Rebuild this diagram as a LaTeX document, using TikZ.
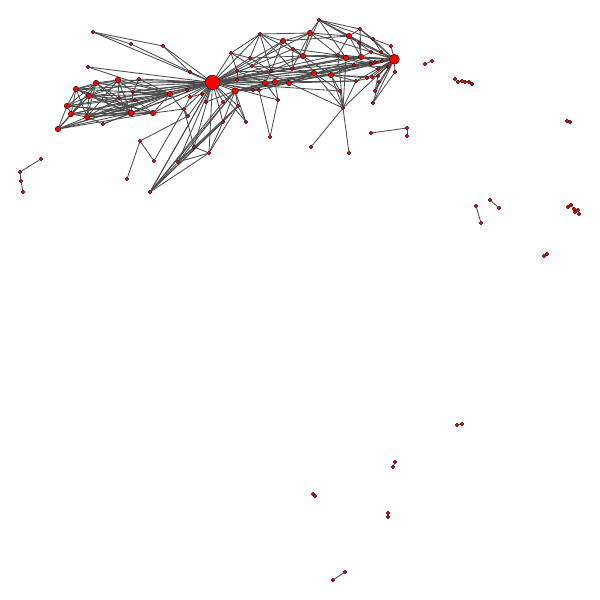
\documentclass[tikz,border=0pt]{standalone}
\usepackage{tikz}
\usepackage{xcolor}
\usetikzlibrary{backgrounds}

\begin{document}
\begin{tikzpicture}[x=1pt, y=-1pt,
    vtx/.style={circle, draw=black, fill=red, line width=0.4pt, inner sep=0pt, minimum size=3.6pt},
    vtxm/.style={vtx, minimum size=5.5pt},
    hub/.style={vtx, line width=0.5pt, minimum size=14.5pt},
    link/.style={draw=black!70, line width=0.85pt}]
  \useasboundingbox (0,0) rectangle (600,600);
  % hubs
  \node[hub] (hubL) at (212.5,82.5) {};
  \node[hub, minimum size=10pt] (hubR) at (394.3,59.3) {};
  % left cluster
  \node[vtxm] (c1) at (96,83) {};
  \node[vtxm] (c2) at (118,80) {};
  \node[vtx]  (c3) at (139,79) {};
  \node[vtxm] (c4) at (76,89) {};
  \node[vtxm] (c5) at (89,96) {};
  \node[vtx]  (c6) at (133,92) {};
  \node[vtx]  (c7) at (119,98) {};
  \node[vtx]  (c8) at (135,100) {};
  \node[vtxm] (c9) at (170,94) {};
  \node[vtxm] (c10) at (67,106) {};
  \node[vtxm] (c11) at (71,114) {};
  \node[vtxm] (c12) at (87,117) {};
  \node[vtxm, minimum size=6pt] (c13) at (131,113) {};
  \node[vtxm] (c14) at (153,113) {};
  \node[vtx]  (c15) at (103,124) {};
  \node[vtxm] (c16) at (58,129) {};
  \node[vtx]  (c17) at (88,67) {};
  \node[vtx]  (t1) at (93,32) {};
  \node[vtx]  (t2) at (131,44) {};
  \node[vtx]  (t3) at (163,46) {};
  % below the left hub
  \node[vtx]  (e1) at (190,97) {};
  \node[vtx]  (e2) at (206,102) {};
  \node[vtx]  (e3) at (184,109) {};
  \node[vtx]  (e4) at (188,116) {};
  \node[vtx]  (e5) at (223,102) {};
  \node[vtx]  (e6) at (238,106) {};
  \node[vtx]  (e7) at (223,122) {};
  \node[vtx]  (e8) at (246,122) {};
  \node[vtx]  (e9) at (278,100) {};
  \node[vtx]  (e10) at (270,137) {};
  \node[vtx]  (e11) at (187,90) {};
  \node[vtx]  (e12) at (202,94) {};
  \node[vtx]  (e13) at (190,72) {};
  \node[vtx]  (d1) at (140,141) {};
  \node[vtx]  (d2) at (154,161) {};
  \node[vtx]  (d3) at (194,147) {};
  \node[vtx]  (d4) at (209,153) {};
  \node[vtx]  (d5) at (178,162) {};
  \node[vtx]  (d6) at (127,179) {};
  \node[vtx]  (d7) at (150,192) {};
  % middle and right cluster
  \node[vtx]  (m1) at (231,53) {};
  \node[vtx]  (m2) at (260,34) {};
  \node[vtxm] (m3) at (283,41) {};
  \node[vtx]  (m4) at (293,49) {};
  \node[vtxm] (m5) at (310,33) {};
  \node[vtx]  (m6) at (319,20) {};
  \node[vtx]  (m7) at (250,58) {};
  \node[vtx]  (m8) at (252,66) {};
  \node[vtx]  (m9) at (237,71) {};
  \node[vtx]  (m10) at (271,71) {};
  \node[vtx]  (m11) at (292,69) {};
  \node[vtxm] (m12) at (303,56) {};
  \node[vtxm] (m13) at (349,36) {};
  \node[vtx]  (m14) at (360,29) {};
  \node[vtx]  (m15) at (359,43) {};
  \node[vtx]  (m16) at (373,39) {};
  \node[vtx]  (m17) at (338,55) {};
  \node[vtxm] (m18) at (346,58) {};
  \node[vtxm] (m19) at (361,57) {};
  \node[vtx]  (m20) at (371,52) {};
  \node[vtx]  (m21) at (381,52) {};
  \node[vtx]  (m22) at (391,46) {};
  \node[vtx]  (m23) at (237,80) {};
  \node[vtxm] (m24) at (265,83) {};
  \node[vtxm] (m25) at (275,82) {};
  \node[vtxm] (m26) at (289,83) {};
  \node[vtxm] (m27) at (314,73) {};
  \node[vtxm] (m28) at (331,75) {};
  \node[vtxm, minimum size=6.5pt] (m29) at (235,91) {};
  \node[vtx]  (m30) at (253,90) {};
  \node[vtx]  (m31) at (259,90) {};
  \node[vtx]  (m32) at (354,65) {};
  \node[vtx]  (m33) at (356,81) {};
  \node[vtx]  (m34) at (367,78) {};
  \node[vtx]  (m35) at (372,77) {};
  \node[vtx]  (m36) at (378,76) {};
  \node[vtx]  (m37) at (371,64) {};
  \node[vtx]  (m38) at (375,62) {};
  \node[vtx]  (m39) at (382,61) {};
  \node[vtx]  (m40) at (378,69) {};
  \node[vtx]  (m41) at (388,67) {};
  \node[vtx]  (m42) at (379,82) {};
  \node[vtx]  (m43) at (395,72) {};
  \node[vtx]  (m44) at (340,91) {};
  \node[vtx]  (m45) at (343,108) {};
  \node[vtx]  (m46) at (311,147) {};
  \node[vtx]  (m47) at (349,153) {};
  \node[vtx]  (m48) at (375,91) {};
  \node[vtx]  (m49) at (373,103) {};
  % small separate groups
  \node[vtx] (r1) at (371,133) {};
  \node[vtx] (r2) at (407,128) {};
  \node[vtx] (r3) at (407,136) {};
  \node[vtx] (p1) at (41,159) {};
  \node[vtx] (p2) at (20,172) {};
  \node[vtx] (p3) at (21,181) {};
  \node[vtx] (p4) at (23,192) {};
  \node[vtx] (q1) at (432,61) {};
  \node[vtx] (q2) at (425,64) {};
  \node[vtx] (g1) at (455,79) {};
  \node[vtx] (g2) at (458,82) {};
  \node[vtx] (g3) at (462,81) {};
  \node[vtx] (g4) at (465,82) {};
  \node[vtx] (g5) at (469,82) {};
  \node[vtx] (g6) at (472,84) {};
  \node[vtx] (h1) at (567,121) {};
  \node[vtx] (h2) at (570,122) {};
  \node[vtx] (k1) at (476,206) {};
  \node[vtx] (k2) at (481,223) {};
  \node[vtx] (k3) at (490,200) {};
  \node[vtx] (k4) at (499,208) {};
  \node[vtx] (w1) at (568,207) {};
  \node[vtx] (w2) at (571,205) {};
  \node[vtx] (w3) at (574,209) {};
  \node[vtx] (w4) at (575,212) {};
  \node[vtx] (w5) at (578,210) {};
  \node[vtx] (w6) at (579,214) {};
  \node[vtx] (v1) at (544,256) {};
  \node[vtx] (v2) at (547,254) {};
  \node[vtx] (x1) at (457,425) {};
  \node[vtx] (x2) at (462,424) {};
  \node[vtx] (x3) at (395,462) {};
  \node[vtx] (x4) at (393,467) {};
  \node[vtx] (x5) at (313,494) {};
  \node[vtx] (x6) at (315,496) {};
  \node[vtx] (x7) at (388,513) {};
  \node[vtx] (x8) at (388,517) {};
  \node[vtx] (x9) at (345,572) {};
  \node[vtx] (x10) at (333,580) {};
  \begin{pgfonlayer}{background}
    \fill[white] (0,0) rectangle (600,600);
    % left hub
    \foreach \b in {c1,c2,c3,c4,c5,c6,c7,c8,c9,c10,c11,c12,c13,c14,c15,c16,c17,
        t1,t2,t3,e1,e2,e3,e4,e5,e6,e7,e8,e9,e11,e12,e13,d3,d4,d5,d7,
        m1,m2,m3,m4,m5,m7,m8,m9,m10,m11,m12,m17,m18,m19,m23,m24,m25,m26,
        m27,m28,m29,m30,m31,m32,m33,m44,hubR}
      \draw[link] (hubL) -- (\b);
    % right hub
    \foreach \b in {m5,m6,m11,m12,m13,m14,m15,m16,m17,m18,m19,m20,m21,m22,
        m24,m25,m26,m27,m28,m32,m33,m34,m35,m36,m37,m38,m39,m40,m41,m42,
        m43,m45,m48,m49}
      \draw[link] (hubR) -- (\b);
    % left cluster
    \foreach \a/\b in {c1/c4,c1/c5,c1/c2,c1/c10,c1/c11,c1/c12,c1/c13,c1/c9,
        c1/c7,c2/c5,c2/c6,c2/c13,c2/c4,c2/c9,c2/c7,c2/c12,c3/c9,c3/c6,c3/c5,
        c4/c5,c4/c10,c4/c11,c4/c13,c4/c14,c4/c9,c5/c10,c5/c11,c5/c12,c5/c13,
        c5/c14,c5/c8,c5/c9,c6/c9,c6/c13,c7/c13,c7/c12,c8/c12,c8/c14,c9/c13,
        c9/c14,c9/c12,c10/c11,c10/c13,c10/c14,c11/c12,c11/c13,c11/c14,
        c11/c16,c12/c13,c12/c14,c12/c16,c13/c14,c13/c16,c14/c16,c15/c13,
        c15/c12,c16/c10,c16/c9,c16/c5,c17/c9,c4/c12,c10/c9,c11/c9,c12/c9,
        t1/t2,t1/t3,t3/e13,c14/e3,c9/e4}
      \draw[link] (\a) -- (\b);
    % fan below the left hub
    \foreach \a/\b in {d1/d2,d1/d6,d1/e4,d2/e3,d7/d5,d7/d4,d7/e7,d7/m29,
        d7/hubL,d7/e6,d5/d3,d5/d4,d5/e7,d5/m29,d3/d4,d4/e7,d3/e3,d4/e6,
        d7/e5,d5/e6,e5/m29,e6/m29,e7/m29,e8/m29,e8/e6,e9/m25,e9/m24,
        e10/e9,e10/m31,e3/e1,e4/e3,e6/e7,e1/e12,e2/m29}
      \draw[link] (\a) -- (\b);
    % middle cluster
    \foreach \a/\b in {m1/m7,m1/m9,m1/m8,m1/m2,m2/m3,m2/m7,m2/m10,m2/m11,
        m2/m12,m3/m4,m3/m5,m3/m12,m3/m10,m3/m8,m4/m12,m4/m11,m5/m6,m5/m13,
        m5/m12,m5/m11,m5/m17,m6/m13,m6/m14,m6/m16,m6/m15,m6/m12,m6/m18,
        m13/m14,m13/m15,m13/m17,m13/m19,m14/m16,m14/m19,m15/m19,m15/m20,
        m16/m21,m16/m22,m17/m18,m18/m19,m19/m20,m7/m12,m7/m10,m8/m11,m9/m10,
        m9/m24,m10/m12,m10/m24,m11/m27,m12/m17,m12/m27,m12/m28,m23/m24,
        m24/m25,m25/m26,m26/m27,m27/m28,m28/m33,m28/m32,m29/m24,m29/m25,
        m29/m26,m29/m30,m29/m31,m30/m31,m31/m26,m9/m23,m30/m25,m44/m28,
        m44/m45,m44/m27,m45/m46,m45/m47,m45/m27,m45/m28,m45/m18,m45/m17,
        m45/m33,m45/m26,m48/m42,m49/m42,m48/m36,m49/m43,m29/m27,m29/m28,
        m24/m28,m25/m32,m26/m19,m11/m18,m3/m13,m2/m5,m12/m19,m27/m34,
        m28/m35,m17/m37,m18/m40,m19/m38,m32/m41,m33/m36,m26/m33,m4/m17,
        m10/m27,m8/m26}
      \draw[link] (\a) -- (\b);
    % separate groups
    \foreach \a/\b in {r1/r2,r2/r3,p1/p2,p2/p3,p3/p4,q1/q2,g1/g2,g2/g3,
        g3/g4,g4/g5,g5/g6,h1/h2,k1/k2,k3/k4,w1/w2,w2/w3,w3/w4,w3/w5,w5/w6,
        w4/w6,v1/v2,x1/x2,x3/x4,x5/x6,x7/x8,x9/x10}
      \draw[link] (\a) -- (\b);
  \end{pgfonlayer}
\end{tikzpicture}
\end{document}
